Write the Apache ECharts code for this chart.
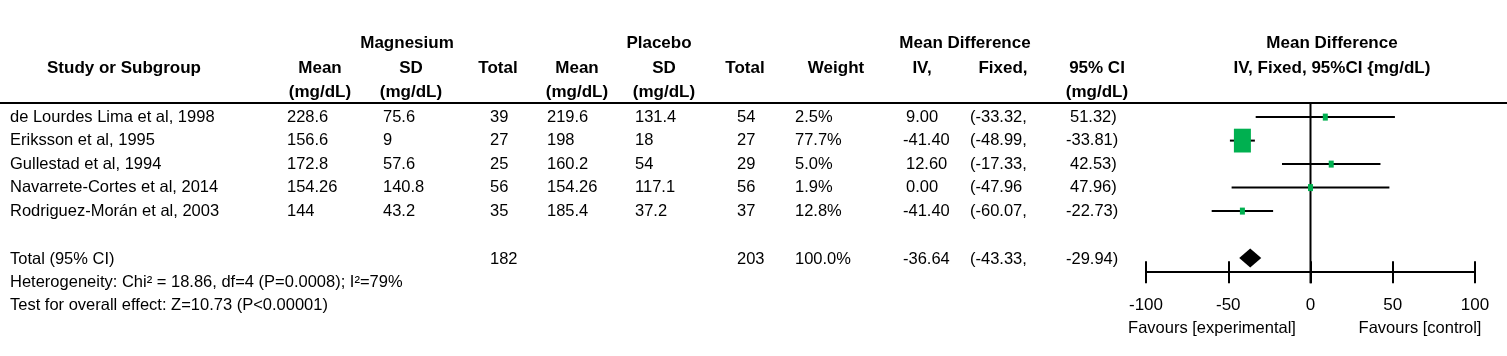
<!DOCTYPE html>
<html><head><meta charset="utf-8">
<script src="https://cdn.jsdelivr.net/npm/echarts@6/dist/echarts.min.js"></script>
<style>html,body{margin:0;padding:0;background:#fff}#c{width:1507px;height:356px}</style>
</head><body><div id="c"></div>
<script>
// ---------- data ----------
const studies = ['de Lourdes Lima et al, 1998', 'Eriksson et al, 1995', 'Gullestad et al, 1994', 'Navarrete-Cortes et al, 2014', 'Rodriguez-Morán et al, 2003'];
const mgMean = ['228.6', '156.6', '172.8', '154.26', '144'];
const mgSD = ['75.6', '9', '57.6', '140.8', '43.2'];
const mgTotal = [39, 27, 25, 56, 35];
const plMean = ['219.6', '198', '160.2', '154.26', '185.4'];
const plSD = ['131.4', '18', '54', '117.1', '37.2'];
const plTotal = [54, 27, 29, 56, 37];
const weight = [2.5, 77.7, 5.0, 1.9, 12.8];
const md = [9.00, -41.40, 12.60, 0.00, -41.40];
const ciLow = [-33.32, -48.99, -17.33, -47.96, -60.07];
const ciHigh = [51.32, -33.81, 42.53, 47.96, -22.73];
const ciLowSep = [',', ',', ',', '', ','];
const totalMg = 182, totalPl = 203, totalWeight = 100.0;
const totalMd = -36.64, totalLow = -43.33, totalHigh = -29.94;
const heterogeneity = 'Heterogeneity: Chi² = 18.86, df=4 (P=0.0008); I²=79%';
const overallEffect = 'Test for overall effect: Z=10.73 (P<0.00001)';
const xTicks = [-100, -50, 0, 50, 100];
const favourLeft = 'Favours [experimental]', favourRight = 'Favours [control]';

// ---------- layout ----------
const FONT = '"Liberation Sans", Arial, sans-serif';
const FS = 16.5, HFS = 17;
const rowY = i => 117 + 23.5 * i;
const totalY = 259, hetY = 282, testY = 305;
const g = [];
function txt(s, x, y, align, bold) {
  g.push({ type: 'text', x: x, y: y, silent: true,
    style: { text: String(s), font: (bold ? 'bold ' : '') + (bold ? HFS : FS) + 'px ' + FONT,
      fill: '#000', textAlign: align || 'left', textVerticalAlign: 'middle' } });
}
// headers
txt('Magnesium', 407, 43, 'center', true);
txt('Placebo', 659, 43, 'center', true);
txt('Mean Difference', 965, 43, 'center', true);
txt('Mean Difference', 1332, 43, 'center', true);
txt('Study or Subgroup', 124, 68, 'center', true);
txt('Mean', 320, 68, 'center', true);
txt('SD', 411, 68, 'center', true);
txt('Total', 498, 68, 'center', true);
txt('Mean', 577, 68, 'center', true);
txt('SD', 664, 68, 'center', true);
txt('Total', 745, 68, 'center', true);
txt('Weight', 836, 68, 'center', true);
txt('IV,', 922, 68, 'center', true);
txt('Fixed,', 1003, 68, 'center', true);
txt('95% CI', 1097, 68, 'center', true);
txt('IV, Fixed, 95%CI {mg/dL)', 1332, 68, 'center', true);
txt('(mg/dL)', 320, 92, 'center', true);
txt('(mg/dL)', 411, 92, 'center', true);
txt('(mg/dL)', 577, 92, 'center', true);
txt('(mg/dL)', 664, 92, 'center', true);
txt('(mg/dL)', 1097, 92, 'center', true);
g.push({ type: 'line', silent: true, shape: { x1: 0, y1: 103, x2: 1507, y2: 103 }, style: { stroke: '#000', lineWidth: 2 } });
// rows
studies.forEach((s, i) => {
  const y = rowY(i);
  txt(s, 10, y);
  txt(mgMean[i], 287, y);
  txt(mgSD[i], 383, y);
  txt(mgTotal[i], 490, y);
  txt(plMean[i], 547, y);
  txt(plSD[i], 635, y);
  txt(plTotal[i], 737, y);
  txt(weight[i].toFixed(1) + '%', 795, y);
  txt(md[i].toFixed(2), 903 + (md[i] >= 0 ? 3 : 0), y);
  txt('(' + ciLow[i].toFixed(2) + ciLowSep[i], 970, y);
  txt(ciHigh[i].toFixed(2) + ')', 1066 + (ciHigh[i] >= 0 ? 4 : 0), y);
});
txt('Total (95% CI)', 10, totalY);
txt(totalMg, 490, totalY);
txt(totalPl, 737, totalY);
txt(totalWeight.toFixed(1) + '%', 795, totalY);
txt(totalMd.toFixed(2), 903, totalY);
txt('(' + totalLow.toFixed(2) + ',', 970, totalY);
txt(totalHigh.toFixed(2) + ')', 1066, totalY);
txt(heterogeneity, 10, hetY);
txt(overallEffect, 10, testY);
txt(favourLeft, 1212, 328, 'center');
txt(favourRight, 1420, 328, 'center');

// ---------- chart ----------
const chart = echarts.init(document.getElementById('c'), null, { renderer: 'canvas' });
const studyData = studies.map((s, i) => [i, md[i], ciLow[i], ciHigh[i], weight[i]]);
const maxW = Math.max.apply(null, weight);
const axisCommon = { type: 'value', min: xTicks[0], max: xTicks[xTicks.length - 1], interval: 50, position: 'bottom', offset: 0, splitLine: { show: false } };
chart.setOption({
  animation: false,
  textStyle: { fontFamily: FONT },
  grid: { left: 1146, right: 32, top: 103, height: 169.2, containLabel: false },
  xAxis: [
    Object.assign({}, axisCommon, {
      axisLine: { show: true, onZero: false, lineStyle: { color: '#000', width: 2 } },
      axisTick: { show: true, length: 11, lineStyle: { color: '#000', width: 2 } },
      axisLabel: { show: true, color: '#000', fontSize: 17, margin: 25, fontFamily: FONT }
    }),
    Object.assign({}, axisCommon, {
      axisLine: { show: false, onZero: false },
      axisTick: { show: true, inside: true, length: 11, lineStyle: { color: '#000', width: 2 } },
      axisLabel: { show: false }
    })
  ],
  yAxis: { type: 'value', min: -0.6, max: 6.6, inverse: true, show: false },
  graphic: g,
  series: [
    { // zero line
      type: 'custom', clip: false, silent: true, data: [[0]],
      renderItem: (p, api) => {
        const a = api.coord([0, -0.6]), b = api.coord([0, 7.07]);
        return { type: 'line', shape: { x1: a[0], y1: a[1], x2: b[0], y2: b[1] }, style: { stroke: '#000', lineWidth: 2 } };
      }
    },
    { // study CIs and squares
      type: 'custom', clip: false, silent: true, data: studyData,
      encode: { x: [1, 2, 3], y: 0 },
      renderItem: (p, api) => {
        const i = api.value(0);
        const c = api.coord([api.value(1), i]);
        const l = api.coord([api.value(2), i]);
        const h = api.coord([api.value(3), i]);
        const w = Math.max(5, 17 * api.value(4) / maxW);
        const hh = w * 1.4;
        return { type: 'group', children: [
          { type: 'line', shape: { x1: l[0], y1: l[1], x2: h[0], y2: h[1] }, style: { stroke: '#000', lineWidth: 2 } },
          { type: 'rect', shape: { x: c[0] - w / 2, y: c[1] - hh / 2, width: w, height: hh }, style: { fill: '#00B050' } }
        ] };
      }
    },
    { // total diamond
      type: 'custom', clip: false, silent: true, data: [[6, totalMd, totalLow, totalHigh]],
      encode: { x: [1, 2, 3], y: 0 },
      renderItem: (p, api) => {
        const r = api.value(0);
        const c = api.coord([api.value(1), r]);
        const l = api.coord([api.value(2), r]);
        const h = api.coord([api.value(3), r]);
        const half = 9.5;
        return { type: 'polygon', shape: { points: [[l[0], c[1]], [c[0], c[1] - half], [h[0], c[1]], [c[0], c[1] + half]] }, style: { fill: '#000' } };
      }
    }
  ]
});
</script>
</body></html>
